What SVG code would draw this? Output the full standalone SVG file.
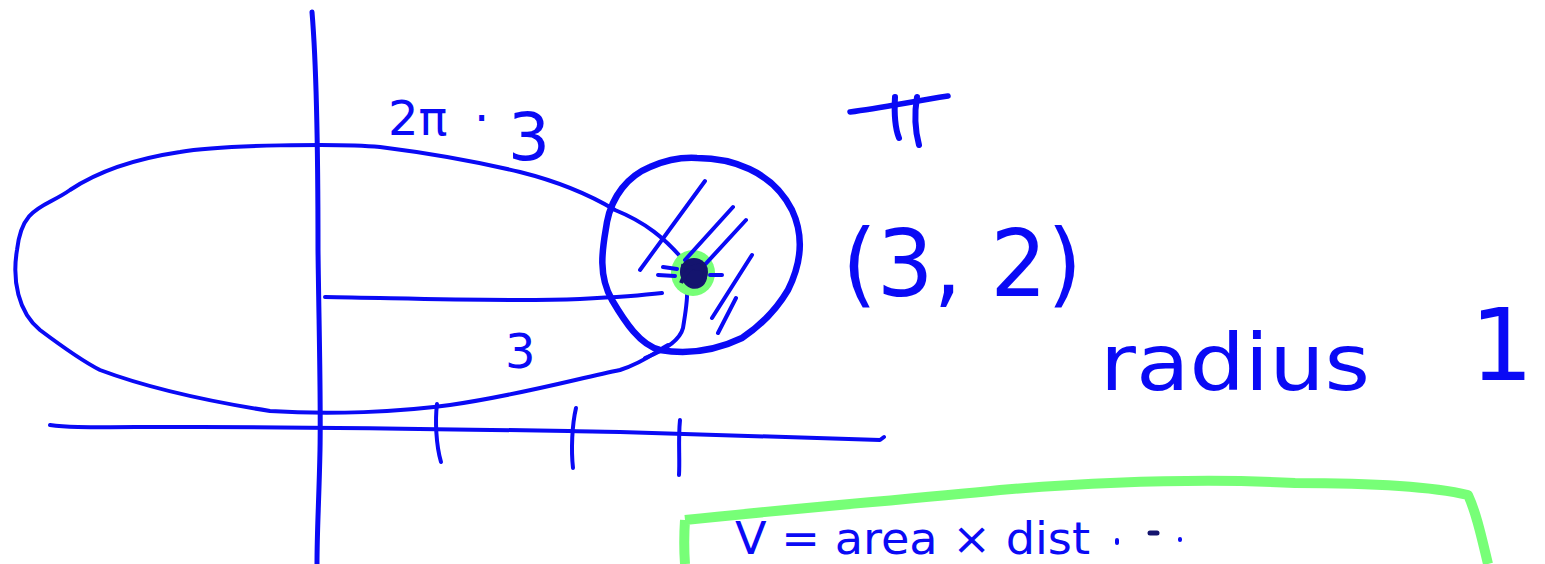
<svg xmlns="http://www.w3.org/2000/svg" width="1545" height="564" viewBox="0 0 1545 564">
<style>
.s{fill:none;stroke:#0a0af5;stroke-linecap:round;stroke-linejoin:round}
.t{fill:#0a0af5;font-family:"DejaVu Sans","Liberation Sans",sans-serif}
</style>
<rect width="1545" height="564" fill="#fff"/>
<g id="axes">
<path class="s" stroke-width="5" d="M312,12 C316,60 318,150 318,250 C319,330 321,400 320,450 C319,500 317,530 317,564"/>
<path class="s" stroke-width="4" d="M50,425 C70,428 90,427 200,427 C350,427 500,430 620,432 C720,435 800,438 880,440 L884,437"/>
<path class="s" stroke-width="4" d="M437,404 C435,420 436,445 441,462"/>
<path class="s" stroke-width="4" d="M576,408 C572,425 571,450 573,468"/>
<path class="s" stroke-width="4" d="M680,420 C678,440 680,458 679,475"/>
</g>
<g id="torus">
<path class="s" stroke-width="4" d="M686,263 C665,238 645,222 615,210 C590,195 560,182 520,172 C470,160 420,152 380,147 C340,143 220,145 180,152 C140,158 100,170 70,190 C45,208 22,205 17,250 C12,280 18,312 40,330 C60,345 80,360 100,370 C140,385 200,400 270,411 C330,415 400,412 450,405 C520,395 580,378 620,370 C645,362 655,352 668,345"/>
<path class="s" stroke-width="4" d="M325,297 C400,298 500,302 580,299 C620,297 645,295 662,293"/>
<path class="s" stroke-width="4" d="M687,288 C688,300 685,315 683,328 C680,340 665,350 645,358"/>
</g>
<g id="circle">
<ellipse cx="693" cy="273" rx="22" ry="23" fill="#77ff77"/>
<path class="s" stroke-width="6.5" d="M697,158 C730,158 772,170 792,210 C806,240 799,268 788,290 C775,312 760,326 742,338 C717,350 690,355 660,350 C640,345 625,322 612,300 C596,272 604,242 607,222 C612,196 628,176 650,167 C666,160 681,157 697,158 Z"/>
<path class="s" stroke-width="4" d="M640,270 L705,181 M685,260 L733,207 M700,270 L746,220 M712,318 L752,255 M718,333 L736,298 M663,267 L677,269 M658,275 L675,276 M710,275 L722,275"/>
<circle cx="694" cy="272" r="14" fill="#14146e"/>
<path fill="none" stroke="#14146e" stroke-width="4" d="M681,283 C690,260 707,262 705,278 C702,292 679,290 683,266 L707,270"/>
</g>
<g id="labels">
<text class="t" x="388" y="135" font-size="48">2π</text>
<text class="t" x="474" y="135" font-size="48">·</text>
<text class="t" x="508" y="160" font-size="66">3</text>
<text class="t" x="505" y="368" font-size="48">3</text>
<path class="s" stroke-width="5.5" d="M850,112 C880,108 910,102 948,96"/>
<path class="s" stroke-width="6" d="M895,97 C894,115 895,128 899,138 M917,97 C914,115 915,130 919,145"/>
<text class="t" x="842" y="296" font-size="92" textLength="240" lengthAdjust="spacingAndGlyphs">(3, 2)</text>
<text class="t" x="1100" y="390" font-size="78" textLength="270" lengthAdjust="spacingAndGlyphs">radius</text>
<text class="t" x="1470" y="380" font-size="100">1</text>
</g>
<g id="formula">
<path fill="none" stroke="#77ff77" stroke-width="10" stroke-linejoin="round" d="M685,520 C800,508 900,500 1000,490 C1100,482 1200,478 1295,483 C1370,483 1430,486 1468,495 C1475,510 1480,530 1488,564 M685,520 C684,535 684,550 685,564"/>
<text class="t" x="735" y="554" font-size="44" textLength="355" lengthAdjust="spacingAndGlyphs">V = area × dist</text>
<path class="s" stroke-width="4" d="M1117,540 L1117,543 M1180,539 L1180,540"/>
<path fill="none" stroke="#14146e" stroke-width="5" stroke-linecap="round" d="M1150,533 L1157,533"/>
</g>
</svg>
